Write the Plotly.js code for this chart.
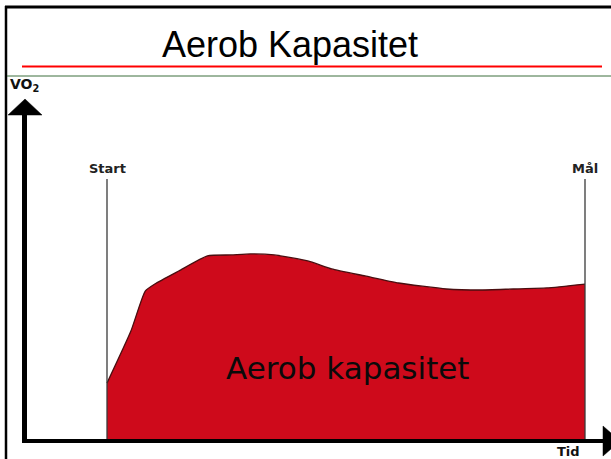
<!DOCTYPE html>
<html>
<head>
<meta charset="utf-8">
<script src="https://cdn.plot.ly/plotly-3.0.1.min.js"></script>
<style>
  html, body { margin: 0; padding: 0; background: #ffffff; }
  #chart { width: 611px; height: 459px; }
</style>
</head>
<body>
<div id="chart"></div>
<script>
// ---- data ----
const chartTitle = 'Aerob Kapasitet';
const areaLabel = 'Aerob kapasitet';
const yLabel = 'VO<sub>2</sub>';
const xLabel = 'Tid';
const timeT = [0, 5, 8, 10, 15, 21, 26, 30, 35, 42, 47, 54, 61, 71, 78, 85, 92, 100];
const vo2 = [21.5, 41.5, 56.9, 59.6, 64.6, 70.4, 70.8, 71.2, 70.8, 68.5, 65.4, 62.7, 60, 57.7, 57.3, 57.7, 58.1, 59.6];
const markTimes = [0, 100];
const markLabels = ['Start', 'Mål'];
const markTop = 100;

// ---- layout geometry (pixels) ----
const W = 611, H = 459;
const L = 27, R = 603, T = 115, B = 439;
const pxX = x => (x - L) / (R - L);
const pxY = y => (B - y) / (B - T);

// x axis: t=0 at px 107, t=100 at px 585
const xPerPx = 100 / (585 - 107);
const xRange = [(L - 107) * xPerPx, (R - 107) * xPerPx];
// y axis: v=0 at plot bottom, 2.6 px per unit
const yRange = [0, (B - T) / 2.6];

const markX = [], markY = [];
markTimes.forEach(t => { markX.push(t, t, null); markY.push(0, markTop, null); });

const traces = [
  {
    x: timeT, y: vo2, type: 'scatter', mode: 'lines',
    line: { color: '#4a0e10', width: 1.3, shape: 'spline', smoothing: 0.5 },
    fill: 'tozeroy', fillcolor: '#CE0A1B',
    hoverinfo: 'skip', showlegend: false
  },
  {
    x: markX, y: markY, type: 'scatter', mode: 'lines',
    line: { color: '#3a3a3a', width: 1.3 },
    hoverinfo: 'skip', showlegend: false
  }
];

const annotations = markTimes.map((t, i) => ({
  x: t, y: markTop, xref: 'x', yref: 'y', text: '<b>' + markLabels[i] + '</b>',
  showarrow: false, yanchor: 'bottom', yshift: 1,
  font: { family: 'DejaVu Sans', size: 13, color: '#222222' }
}));
annotations.push({
  x: pxX(348), y: pxY(368), xref: 'paper', yref: 'paper', text: areaLabel,
  showarrow: false, xanchor: 'center', yanchor: 'middle',
  font: { family: 'DejaVu Sans', size: 31, color: '#0a0a0a' }
});
annotations.push({
  x: pxX(568), y: pxY(451), xref: 'paper', yref: 'paper', text: '<b>' + xLabel + '</b>',
  showarrow: false, xanchor: 'center', yanchor: 'middle',
  font: { family: 'DejaVu Sans', size: 13, color: '#111111' }
});
annotations.push({
  x: pxX(24), y: pxY(85), xref: 'paper', yref: 'paper', text: '<b>' + yLabel + '</b>',
  showarrow: false, xanchor: 'center', yanchor: 'middle',
  font: { family: 'DejaVu Sans', size: 14, color: '#111111' }
});

const shapes = [
  // frame
  { type: 'line', xref: 'paper', yref: 'paper', x0: pxX(6), x1: pxX(6), y0: pxY(6), y1: pxY(462), line: { color: '#000', width: 2.5 } },
  { type: 'line', xref: 'paper', yref: 'paper', x0: pxX(5), x1: pxX(614), y0: pxY(7), y1: pxY(7), line: { color: '#000', width: 3 } },
  // title rules
  { type: 'line', xref: 'paper', yref: 'paper', x0: pxX(22), x1: pxX(602), y0: pxY(66.5), y1: pxY(66.5), line: { color: '#ff0000', width: 2 } },
  { type: 'line', xref: 'paper', yref: 'paper', x0: pxX(7), x1: pxX(614), y0: pxY(76), y1: pxY(76), line: { color: '#3d6e3d', width: 1 } },
  // arrowheads
  { type: 'path', xref: 'paper', yref: 'paper',
    path: `M ${pxX(8)} ${pxY(115)} L ${pxX(25)} ${pxY(99)} L ${pxX(42)} ${pxY(115)} Z`,
    fillcolor: '#000', line: { color: '#000', width: 0.5 } },
  { type: 'path', xref: 'paper', yref: 'paper',
    path: `M ${pxX(603)} ${pxY(426)} L ${pxX(620)} ${pxY(441)} L ${pxX(603)} ${pxY(456)} Z`,
    fillcolor: '#000', line: { color: '#000', width: 0.5 } }
];

const layout = {
  width: W, height: H,
  margin: { l: L, r: W - R, t: T, b: H - B, pad: 0 },
  paper_bgcolor: '#ffffff', plot_bgcolor: '#ffffff',
  title: {
    text: chartTitle, x: 290 / W, xanchor: 'center', y: 1 - 44 / H, yanchor: 'middle',
    xref: 'container', yref: 'container',
    font: { family: 'Liberation Sans, Arial, sans-serif', size: 36, color: '#000' }
  },
  xaxis: {
    range: xRange, showgrid: false, zeroline: false, showticklabels: false, ticks: '',
    showline: true, linecolor: '#000', linewidth: 3.5, fixedrange: true
  },
  yaxis: {
    range: yRange, showgrid: false, zeroline: false, showticklabels: false, ticks: '',
    showline: true, linecolor: '#000', linewidth: 5, fixedrange: true
  },
  showlegend: false,
  hovermode: false,
  annotations: annotations,
  shapes: shapes
};

Plotly.newPlot('chart', traces, layout, { displayModeBar: false, staticPlot: true });
</script>
</body>
</html>
